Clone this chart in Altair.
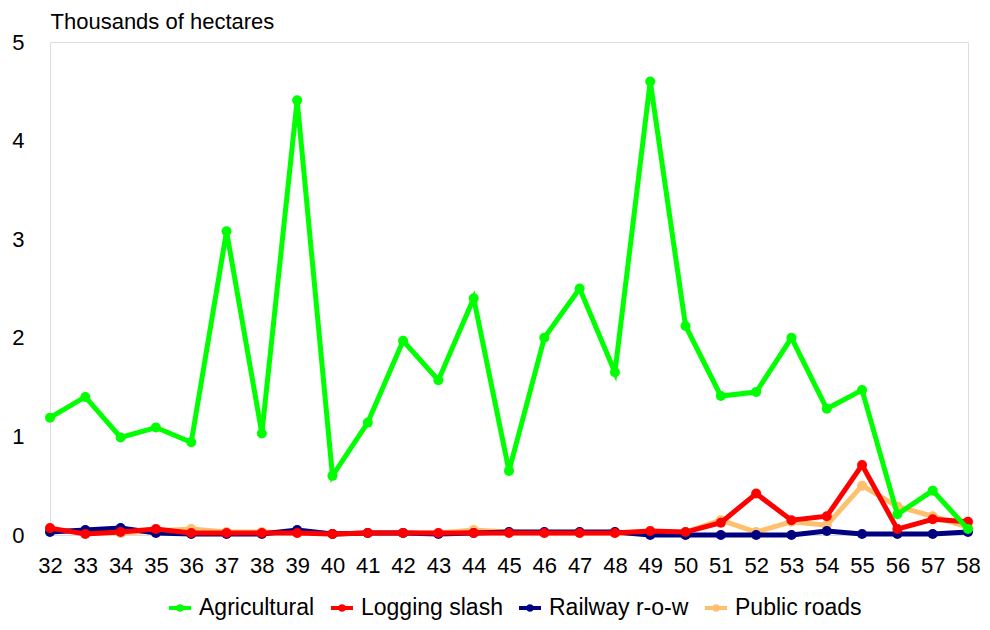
import altair as alt
import pandas as pd

years = list(range(32, 59))
agricultural = [1.19, 1.40, 0.99, 1.09, 0.94, 3.08, 1.03, 4.41, 0.60, 1.14, 1.97, 1.57, 2.40,
                0.65, 2.00, 2.50, 1.65, 4.60, 2.12, 1.41, 1.45, 2.00, 1.28, 1.47, 0.21, 0.45, 0.06]
logging_slash = [0.07, 0.01, 0.03, 0.06, 0.02, 0.02, 0.02, 0.02, 0.01, 0.02, 0.02, 0.02, 0.02,
                 0.02, 0.02, 0.02, 0.02, 0.04, 0.03, 0.125, 0.42, 0.15, 0.19, 0.71, 0.06, 0.16, 0.135]
railway = [0.03, 0.05, 0.07, 0.02, 0.01, 0.01, 0.01, 0.05, 0.01, 0.02, 0.02, 0.01, 0.02,
           0.03, 0.03, 0.03, 0.03, 0.00, 0.00, 0.00, 0.00, 0.00, 0.04, 0.01, 0.01, 0.01, 0.03]
public_roads = [0.05, 0.03, 0.02, 0.04, 0.06, 0.03, 0.03, 0.02, 0.01, 0.02, 0.02, 0.02, 0.05,
                0.03, 0.02, 0.02, 0.02, 0.02, 0.03, 0.15, 0.03, 0.135, 0.10, 0.50, 0.29, 0.19, 0.08]

series_names = ["Agricultural", "Logging slash", "Railway r-o-w", "Public roads"]
series_colors = ["#00FF00", "#FF0000", "#000080", "#FFC06E"]
series_values = [agricultural, logging_slash, railway, public_roads]

rows = []
for name, vals in zip(series_names, series_values):
    for yr, v in zip(years, vals):
        rows.append({"year": yr, "value": v, "series": name})
df = pd.DataFrame(rows)

FONT = "Liberation Sans"

color = alt.Color(
    "series:N",
    scale=alt.Scale(domain=series_names, range=series_colors),
    legend=alt.Legend(
        title=None,
        orient="none",
        direction="horizontal",
        legendX=117,
        legendY=553,
        columns=4,
        symbolType="M-1,0L1,0M-0.17,0A0.17,0.17,0,1,1,0.17,0A0.17,0.17,0,1,1,-0.17,0",
        symbolSize=484,
        symbolStrokeWidth=4,
        labelFont=FONT,
        labelFontSize=23,
        labelColor="black",
        labelOffset=6,
        columnPadding=8,
        labelLimit=300,
    ),
)

x = alt.X(
    "year:Q",
    scale=alt.Scale(domain=[32, 58], nice=False, zero=False),
    axis=alt.Axis(
        title=None,
        values=years,
        format="d",
        grid=False,
        domain=False,
        ticks=False,
        labelPadding=20,
        labelFont=FONT,
        labelFontSize=22,
        labelColor="black",
        labelFlush=False,
        labelOverlap=False,
    ),
)

y = alt.Y(
    "value:Q",
    scale=alt.Scale(domain=[0, 5], nice=False),
    axis=alt.Axis(
        title="Thousands of hectares",
        titleAngle=0,
        titleAlign="left",
        titleBaseline="alphabetic",
        titleX=0,
        titleY=-14,
        titleFont=FONT,
        titleFontSize=22,
        titleFontWeight="normal",
        titleColor="black",
        values=[0, 1, 2, 3, 4, 5],
        grid=False,
        domain=False,
        ticks=False,
        labelPadding=26,
        labelFont=FONT,
        labelFontSize=22,
        labelColor="black",
    ),
)

layers = []
for name in reversed(series_names):
    layers.append(
        alt.Chart(df)
        .transform_filter(alt.datum.series == name)
        .mark_line(strokeWidth=5, point=alt.OverlayMarkDef(size=100, filled=True, opacity=1))
        .encode(x=x, y=y, color=color)
    )

chart = (
    alt.layer(*layers)
    .properties(
        width=918,
        height=493,
        autosize=alt.AutoSizeParams(type="none"),
        padding={"left": 42, "top": 34, "right": 14, "bottom": 87},
    )
    .configure_view(stroke="#808080", strokeWidth=1.5)
    .configure(background="white")
)

chart.save("out.html", embed_options={"renderer": "svg", "actions": False})
